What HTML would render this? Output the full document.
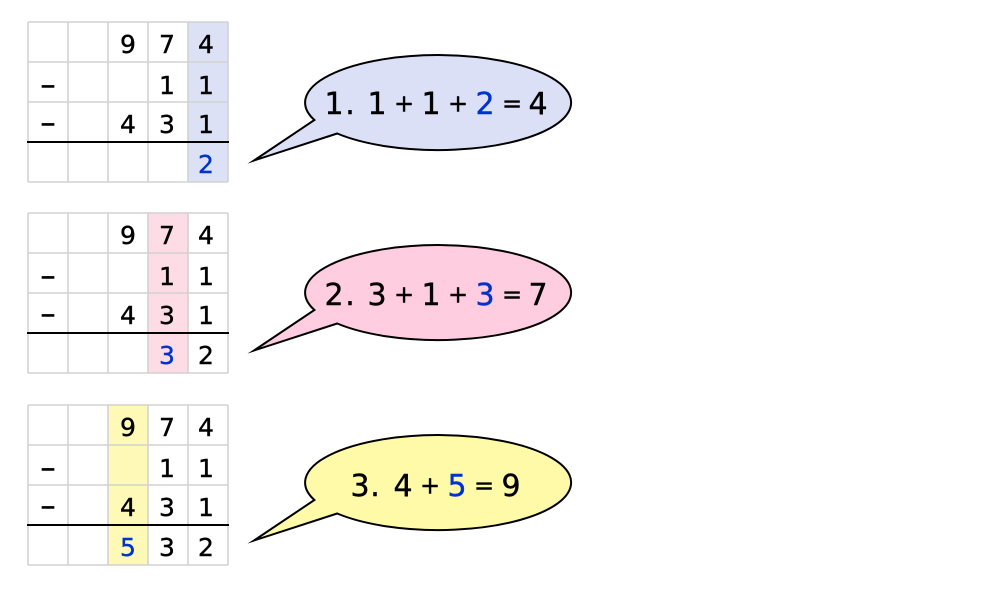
<!DOCTYPE html>
<html>
<head>
<meta charset="utf-8">
<style>
  html, body { margin: 0; padding: 0; background: #ffffff; }
  svg { display: block; }
  text { font-family: "DejaVu Sans", "Liberation Sans", sans-serif; }
</style>
</head>
<body>
<svg width="1000" height="592" viewBox="0 0 1000 592" xmlns="http://www.w3.org/2000/svg">

  <!-- ================= GRID 1 ================= -->
  <g transform="translate(0,22)">
    <rect x="188" y="0" width="40" height="160" fill="#dde1f6"/>
    <g stroke="#d2d2d2" stroke-width="1.6" fill="none">
      <line x1="28" y1="0" x2="28" y2="160"/>
      <line x1="68" y1="0" x2="68" y2="160"/>
      <line x1="108" y1="0" x2="108" y2="160"/>
      <line x1="148" y1="0" x2="148" y2="160"/>
      <line x1="188" y1="0" x2="188" y2="160"/>
      <line x1="228" y1="0" x2="228" y2="160"/>
      <line x1="28" y1="0" x2="228" y2="0"/>
      <line x1="28" y1="40" x2="228" y2="40"/>
      <line x1="28" y1="80" x2="228" y2="80"/>
      <line x1="28" y1="160" x2="228" y2="160"/>
    </g>
    <line x1="27" y1="120" x2="229" y2="120" stroke="#000" stroke-width="2"/>
    <g font-size="25" fill="#000" stroke="#000" stroke-width="0.4" text-anchor="middle">
      <text x="128" y="31">9</text>
      <text x="167" y="31">7</text>
      <text x="206" y="31">4</text>
      <text x="48" y="73" font-size="30" stroke-width="0.6">–</text>
      <text x="167" y="72">1</text>
      <text x="206" y="72">1</text>
      <text x="48" y="111" font-size="30" stroke-width="0.6">–</text>
      <text x="128" y="111">4</text>
      <text x="167" y="111">3</text>
      <text x="206" y="111">1</text>
      <text x="206" y="151" fill="#0033cc" stroke="#0033cc">2</text>
    </g>
  </g>

  <!-- ================= GRID 2 ================= -->
  <g transform="translate(0,213)">
    <rect x="148" y="0" width="40" height="160" fill="#fddce6"/>
    <g stroke="#d2d2d2" stroke-width="1.6" fill="none">
      <line x1="28" y1="0" x2="28" y2="160"/>
      <line x1="68" y1="0" x2="68" y2="160"/>
      <line x1="108" y1="0" x2="108" y2="160"/>
      <line x1="148" y1="0" x2="148" y2="160"/>
      <line x1="188" y1="0" x2="188" y2="160"/>
      <line x1="228" y1="0" x2="228" y2="160"/>
      <line x1="28" y1="0" x2="228" y2="0"/>
      <line x1="28" y1="40" x2="228" y2="40"/>
      <line x1="28" y1="80" x2="228" y2="80"/>
      <line x1="28" y1="160" x2="228" y2="160"/>
    </g>
    <line x1="27" y1="120" x2="229" y2="120" stroke="#000" stroke-width="2"/>
    <g font-size="25" fill="#000" stroke="#000" stroke-width="0.4" text-anchor="middle">
      <text x="128" y="31">9</text>
      <text x="167" y="31">7</text>
      <text x="206" y="31">4</text>
      <text x="48" y="73" font-size="30" stroke-width="0.6">–</text>
      <text x="167" y="72">1</text>
      <text x="206" y="72">1</text>
      <text x="48" y="111" font-size="30" stroke-width="0.6">–</text>
      <text x="128" y="111">4</text>
      <text x="167" y="111">3</text>
      <text x="206" y="111">1</text>
      <text x="167" y="151" fill="#0033cc" stroke="#0033cc">3</text>
      <text x="206" y="151">2</text>
    </g>
  </g>

  <!-- ================= GRID 3 ================= -->
  <g transform="translate(0,405)">
    <rect x="108" y="0" width="40" height="160" fill="#fff9b8"/>
    <g stroke="#d2d2d2" stroke-width="1.6" fill="none">
      <line x1="28" y1="0" x2="28" y2="160"/>
      <line x1="68" y1="0" x2="68" y2="160"/>
      <line x1="108" y1="0" x2="108" y2="160"/>
      <line x1="148" y1="0" x2="148" y2="160"/>
      <line x1="188" y1="0" x2="188" y2="160"/>
      <line x1="228" y1="0" x2="228" y2="160"/>
      <line x1="28" y1="0" x2="228" y2="0"/>
      <line x1="28" y1="40" x2="228" y2="40"/>
      <line x1="28" y1="80" x2="228" y2="80"/>
      <line x1="28" y1="160" x2="228" y2="160"/>
    </g>
    <line x1="27" y1="120" x2="229" y2="120" stroke="#000" stroke-width="2"/>
    <g font-size="25" fill="#000" stroke="#000" stroke-width="0.4" text-anchor="middle">
      <text x="128" y="31">9</text>
      <text x="167" y="31">7</text>
      <text x="206" y="31">4</text>
      <text x="48" y="73" font-size="30" stroke-width="0.6">–</text>
      <text x="167" y="72">1</text>
      <text x="206" y="72">1</text>
      <text x="48" y="111" font-size="30" stroke-width="0.6">–</text>
      <text x="128" y="111">4</text>
      <text x="167" y="111">3</text>
      <text x="206" y="111">1</text>
      <text x="128" y="151" fill="#0033cc" stroke="#0033cc">5</text>
      <text x="167" y="151">3</text>
      <text x="206" y="151">2</text>
    </g>
  </g>

  <!-- ================= BALLOON 1 ================= -->
  <g>
    <path d="M 314.4 120 A 133 47.5 0 1 1 337.2 133.5 L 254 160.5 Z"
          fill="#dce0f7" stroke="#000" stroke-width="2" stroke-linejoin="miter" stroke-miterlimit="12"/>
    <g font-size="30" fill="#000" stroke="#000" stroke-width="0.4" text-anchor="middle">
      <text x="334" y="114">1</text>
      <text x="350" y="114">.</text>
      <text x="377" y="114">1</text>
      <text x="404" y="111.5" font-size="24">+</text>
      <text x="431" y="114">1</text>
      <text x="458" y="111.5" font-size="24">+</text>
      <text x="485" y="114" fill="#0033cc" stroke="#0033cc">2</text>
      <text x="512" y="111.5" font-size="24">=</text>
      <text x="538" y="114">4</text>
    </g>
  </g>

  <!-- ================= BALLOON 2 ================= -->
  <g transform="translate(0,190)">
    <path d="M 314.4 120 A 133 47.5 0 1 1 337.2 133.5 L 254 160.5 Z"
          fill="#ffcce0" stroke="#000" stroke-width="2" stroke-linejoin="miter" stroke-miterlimit="12"/>
    <g font-size="30" fill="#000" stroke="#000" stroke-width="0.4" text-anchor="middle">
      <text x="334" y="115">2</text>
      <text x="350" y="115">.</text>
      <text x="377" y="115">3</text>
      <text x="404" y="112.5" font-size="24">+</text>
      <text x="431" y="115">1</text>
      <text x="458" y="112.5" font-size="24">+</text>
      <text x="485" y="115" fill="#0033cc" stroke="#0033cc">3</text>
      <text x="512" y="112.5" font-size="24">=</text>
      <text x="538" y="115">7</text>
    </g>
  </g>

  <!-- ================= BALLOON 3 ================= -->
  <g transform="translate(0,380)">
    <path d="M 314.4 120 A 133 47.5 0 1 1 337.2 133.5 L 254 160.5 Z"
          fill="#fffaa8" stroke="#000" stroke-width="2" stroke-linejoin="miter" stroke-miterlimit="12"/>
    <g font-size="30" fill="#000" stroke="#000" stroke-width="0.4" text-anchor="middle">
      <text x="360" y="116">3</text>
      <text x="375" y="116">.</text>
      <text x="403" y="116">4</text>
      <text x="430" y="113.5" font-size="24">+</text>
      <text x="457" y="116" fill="#0033cc" stroke="#0033cc">5</text>
      <text x="484" y="113.5" font-size="24">=</text>
      <text x="511" y="116">9</text>
    </g>
  </g>

</svg>
</body>
</html>
